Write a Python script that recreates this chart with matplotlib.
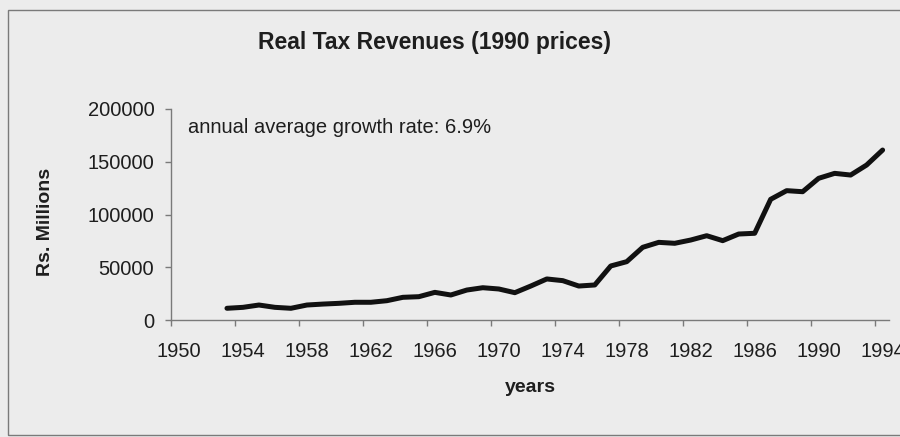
import matplotlib
import matplotlib.pyplot as plt
from matplotlib.patches import Rectangle
from matplotlib.ticker import FixedLocator, NullFormatter

matplotlib.use("Agg")

plt.rcParams["font.family"] = ["Liberation Sans", "DejaVu Sans"]

# Real tax revenue, Rs. millions at 1990 prices
years = list(range(1953, 1995))
revenue = [
    11100, 12000, 14200, 12000, 11100, 14200, 15100, 15800, 16800, 16800,
    18300, 21500, 22100, 26200, 23700, 28400, 30600, 29400, 25900, 32200,
    38900, 37300, 32200, 33200, 51200, 55300, 68900, 73600, 72700, 75800,
    79900, 75200, 81500, 82200, 114400, 122600, 121600, 134300, 139000,
    137400, 146900, 161100,
]
label_years = list(range(1950, 1995, 4))
y_ticks = [0, 50000, 100000, 150000, 200000]

TITLE = "Real Tax Revenues (1990 prices)"
NOTE = "annual average growth rate: 6.9%"

BG = "#ececec"
INK = "#1e1e1e"
AXIS = "#7a7a7a"

fig = plt.figure(figsize=(9.0, 4.37), dpi=100, facecolor=BG)

# chart frame
fig.patches.append(Rectangle((8 / 900, 1 - 435 / 437), 1.2, (435 - 10) / 437,
                             transform=fig.transFigure, fill=False,
                             edgecolor=AXIS, linewidth=1.0))

ax = fig.add_axes([171 / 900, 1 - 320 / 437, (889 - 171) / 900, 211 / 437])
ax.set_facecolor(BG)

ax.plot(years, revenue, color="#111111", linewidth=3.6,
        solid_joinstyle="round", solid_capstyle="round")

ax.set_xlim(1949.5, 1994.4)
ax.set_ylim(0, 200000)

for side in ("top", "right"):
    ax.spines[side].set_visible(False)
for side in ("left", "bottom"):
    ax.spines[side].set_color(AXIS)
    ax.spines[side].set_linewidth(1.0)

# category labels sit between the tick marks
ax.xaxis.set_major_locator(FixedLocator(label_years))
ax.xaxis.set_minor_locator(FixedLocator([y - 0.5 for y in label_years]))
ax.xaxis.set_minor_formatter(NullFormatter())
ax.tick_params(axis="x", which="major", length=0, pad=16,
               labelsize=14.5, labelcolor=INK)
ax.tick_params(axis="x", which="minor", length=4, width=1, color=AXIS,
               direction="out")

ax.set_yticks(y_ticks)
ax.set_yticklabels([str(v) for v in y_ticks])
ax.tick_params(axis="y", length=4, width=1, color=AXIS, pad=8,
               labelsize=14.5, labelcolor=INK)

ax.text(1950.55, 182000, NOTE, fontsize=14.5, color=INK, va="center",
        ha="left")

fig.text(435 / 900, 1 - 42 / 437, TITLE, fontsize=16.5, fontweight="bold",
         color=INK, ha="center", va="center")
fig.text(530 / 900, 1 - 387 / 437, "years", fontsize=14, fontweight="bold",
         color=INK, ha="center", va="center")
fig.text(45 / 900, 1 - 222 / 437, "Rs. Millions", fontsize=14,
         fontweight="bold", color=INK, ha="center", va="center",
         rotation=90)

fig.savefig("out.png", dpi=100, facecolor=BG)
plt.close(fig)
